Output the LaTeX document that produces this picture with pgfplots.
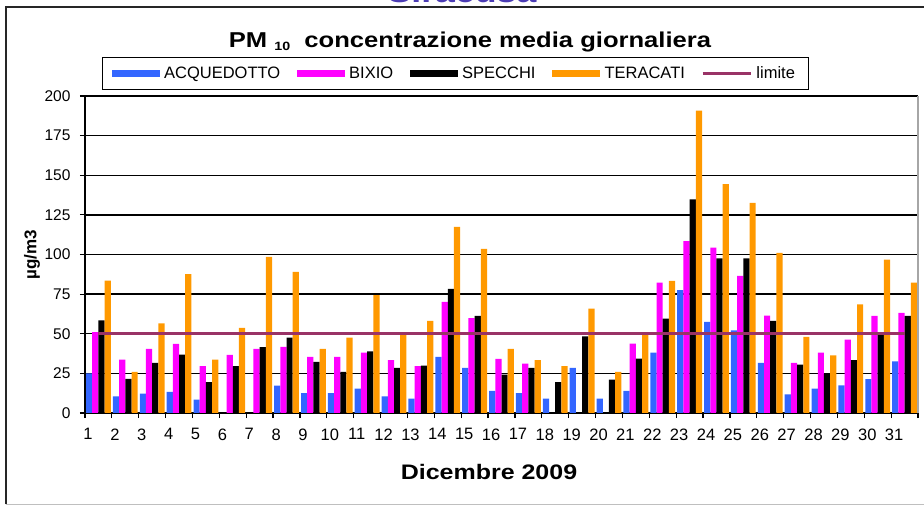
\documentclass[border=0pt]{standalone}
\usepackage{pgfplots}
\pgfplotsset{compat=1.18}
\usepackage{pgfplotstable}
\usepackage{fontspec}
\setmainfont{Liberation Sans}
\newfontfamily\widefont{Liberation Sans}[FakeStretch=1.19]
\definecolor{cacq}{HTML}{3366FF}
\definecolor{cbix}{HTML}{FF00FF}
\definecolor{cspe}{HTML}{000000}
\definecolor{cter}{HTML}{FF9900}
\definecolor{clim}{HTML}{993366}
\definecolor{ctop}{HTML}{4B3CB4}
\pgfplotstableread{
day acq bix spe ter lim
1 25 51 58.5 83.5 50
2 10.5 33.7 21.5 26 50
3 12.2 40.4 31.6 56.6 50
4 13.3 43.6 36.8 87.6 50
5 8.4 29.5 19.4 33.7 50
6 nan 36.6 29.5 53.7 50
7 nan 40.4 41.5 98.5 50
8 17.3 41.7 47.6 89 50
9 12.6 35.4 32.2 40.4 50
10 12.6 35.4 25.9 47.6 50
11 15.4 38.1 38.9 74.3 50
12 10.5 33.3 28.4 50.1 50
13 9.1 29.5 29.9 58.1 50
14 35.4 70.1 78.3 117.5 50
15 28.4 59.8 61.3 103.6 50
16 13.9 34.1 24.2 40.4 50
17 12.6 31.2 28.4 33.3 50
18 9.1 nan 19.4 29.5 50
19 28.4 nan 48.4 65.9 50
20 9.1 nan 21.1 25.9 50
21 13.9 43.8 34.3 49.1 50
22 38.1 82.3 59.6 83.4 50
23 77.5 108.4 134.7 190.7 50
24 57.5 104.4 97.5 144.4 50
25 52.2 86.5 97.5 132.6 50
26 31.6 61.5 58.1 101.1 50
27 11.8 31.6 30.5 48 50
28 15.4 38.1 24.8 36.4 50
29 17.5 46.3 33.3 68.6 50
30 21.3 61.3 50.1 96.8 50
31 32.6 63.2 61.3 82.3 50
}\data
\begin{document}
\begin{tikzpicture}[x=1pt,y=1pt]
\useasboundingbox (0,0) rectangle (924,506);
\draw[line width=1.3pt, black!85] (6,1.5) -- (6,499) -- (924,499);
\draw[line width=1pt, gray!50] (6,1.5) -- (924,1.5);
\node[font=\widefont\bfseries\fontsize{30}{30}\selectfont, text=ctop, anchor=base] at (462,503) {Siracusa};
\node[font=\widefont\bfseries\fontsize{21.5}{21.5}\selectfont, anchor=base] at (470,458)
  {PM\ \raisebox{-3pt}{\fontsize{12}{12}\selectfont 10}\ \ concentrazione media giornaliera};
\begin{axis}[
  at={(85pt,93pt)}, anchor=south west,
  scale only axis, width=833pt, height=317pt,
  xmin=0.5, xmax=31.5, ymin=0, ymax=200,
  axis lines*=left,
  axis line style={black, line width=1.5pt},
  xtick={0.5,1.5,...,31.5},
  xticklabels={1,2,3,4,5,6,7,8,9,10,11,12,13,14,15,16,17,18,19,20,21,22,23,24,25,26,27,28,29,30,31,{}},
  ytick={0,25,...,200},
  tick align=outside,
  major tick length=5pt,
  tick style={black, line width=1.2pt},
  ymajorgrids,
  major grid style={black, line width=1.3pt},
  /pgf/number format/assume math mode=true,
  xticklabel style={font=\fontsize{16.5}{16.5}\selectfont, xshift=3pt, yshift=-7pt},
  yticklabel style={font=\fontsize{15.5}{15.5}\selectfont, xshift=-6pt},
  xlabel={Dicembre 2009},
  xlabel style={font=\widefont\bfseries\fontsize{21}{21}\selectfont, at={(axis description cs:0.485,-0.186)}, anchor=center},
  ylabel={µg/m3},
  ylabel style={font=\bfseries\fontsize{17}{17}\selectfont, at={(axis description cs:-0.0636,0.5)}, anchor=center},
  legend columns=5,
  legend style={at={(axis description cs:0.4448,1.071)}, anchor=center,
    draw=black, line width=1.2pt, inner xsep=9pt, inner ysep=7pt,
    font=\fontsize{16.5}{16.5}\selectfont,
    nodes={inner xsep=4.5pt},
    /tikz/every even column/.append style={column sep=12pt}},
  clip=false,
]
\addplot[ybar, bar width=6.2pt, bar shift=-9.3pt, fill=cacq, draw=none,
  legend image code/.code={\fill[cacq] (0pt,-3.5pt) rectangle (48pt,3.5pt);}]
  table[x=day,y=acq]{\data};
\addlegendentry{ACQUEDOTTO}
\addplot[ybar, bar width=6.2pt, bar shift=-3.1pt, fill=cbix, draw=none,
  legend image code/.code={\fill[cbix] (0pt,-3.5pt) rectangle (48pt,3.5pt);}]
  table[x=day,y=bix]{\data};
\addlegendentry{BIXIO}
\addplot[ybar, bar width=6.2pt, bar shift=3.1pt, fill=cspe, draw=none,
  legend image code/.code={\fill[cspe] (0pt,-3.5pt) rectangle (48pt,3.5pt);}]
  table[x=day,y=spe]{\data};
\addlegendentry{SPECCHI}
\addplot[ybar, bar width=6.2pt, bar shift=9.3pt, fill=cter, draw=none,
  legend image code/.code={\fill[cter] (0pt,-3.5pt) rectangle (48pt,3.5pt);}]
  table[x=day,y=ter]{\data};
\addlegendentry{TERACATI}
\addplot[sharp plot, clim, line width=3pt, mark=none,
  legend image code/.code={\draw[clim, line width=2.5pt] (0pt,0pt) -- (48pt,0pt);}]
  table[x=day,y=lim]{\data};
\addlegendentry{limite}
\draw[gray!70, line width=1.2pt] (rel axis cs:1,0) -- (rel axis cs:1,1);
\end{axis}
\end{tikzpicture}
\end{document}
